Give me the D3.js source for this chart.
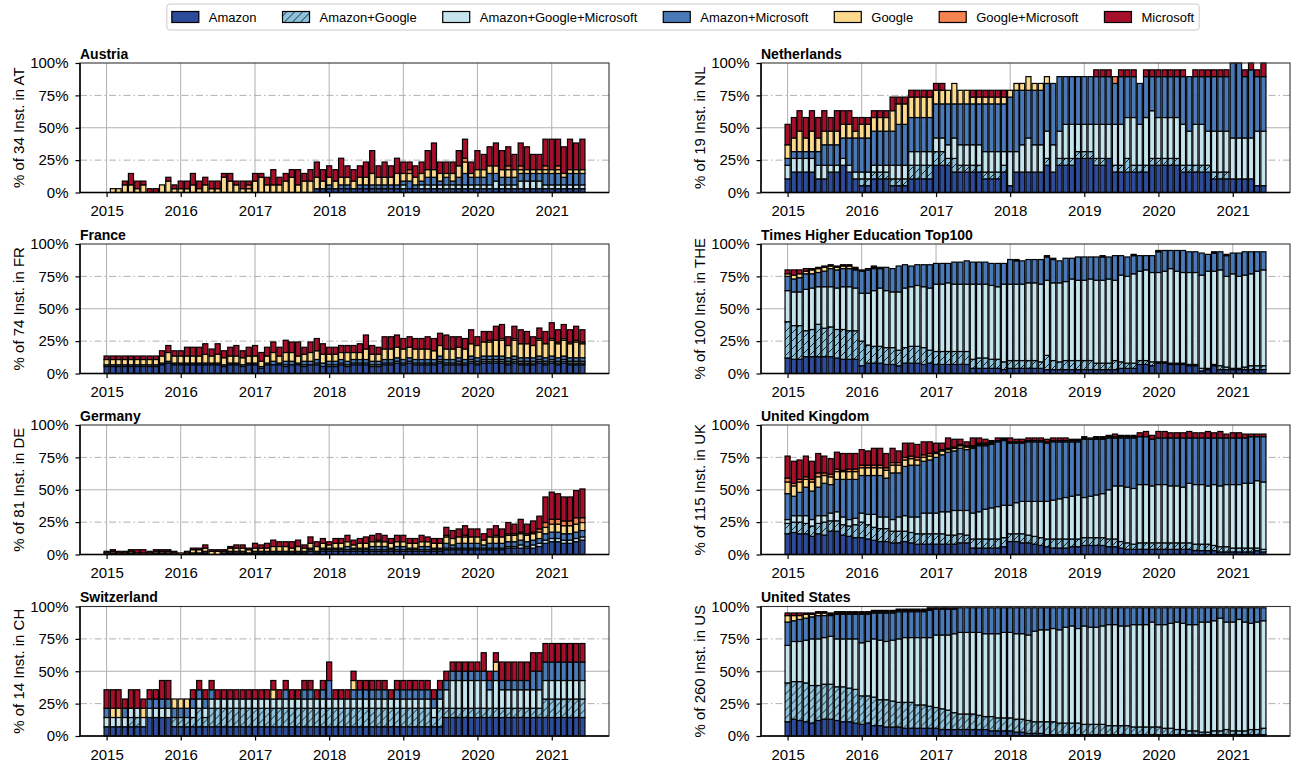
<!DOCTYPE html>
<html><head><meta charset="utf-8">
<script src="https://cdn.jsdelivr.net/npm/d3@7"></script>
<style>body{margin:0;background:#fff}svg{font-family:"Liberation Sans",Arial,Helvetica,sans-serif}</style>
</head><body><svg id="c" width="1296" height="769"></svg>
<script>
const seriesNames=["Amazon","Amazon+Google","Amazon+Google+Microsoft","Amazon+Microsoft","Google","Google+Microsoft","Microsoft"];
const seriesColors=["#2d4b9b","#8ec3de","#c5e4ee","#4a79b8","#fcd98b","#f58450","#a50f2a"];
const yearTicks=[2015,2016,2017,2018,2019,2020,2021];
const yTicks=[0,25,50,75,100];

// ---- Austria (counts of 34)
const AT_A=[0,0,0,0,0,0,0,0,0,0,0,0, 0,0,0,0,0,0,0,0,0,0,0,0, 0,0,0,0,0,0,0,0,0,0,1,1, 1,1,1,1,1,1,1,1,1,1,1,1, 1,1,1,1,1,1,1,1,1,1,1,1, 1,1,1,1,1,1,1,1,1,1,1,1, 1,1,1,1,1,1];
const AT_AG=[0,0,0,0,0,0,0,0,0,0,0,0, 0,0,0,0,0,0,0,0,0,0,0,0, 0,0,0,0,0,0,0,0,0,0,0,0, 0,0,0,0,0,0,0,0,0,0,0,0, 0,0,0,0,0,0,0,0,0,0,0,0, 0,0,0,0,0,0,0,0,0,0,0,0, 0,0,0,0,0,0];
const AT_AGM=[0,0,0,0,0,0,0,0,0,0,0,0, 0,0,0,0,0,0,0,0,0,0,0,0, 0,0,0,0,0,0,0,0,0,0,0,0, 0,0,0,0,0,0,0,0,0,0,0,0, 1,0,0,1,1,1,1,1,1,1,1,1, 1,1,1,2,1,1,1,2,2,2,2,1, 1,1,1,1,1,1];
const AT_AM=[0,0,0,0,0,0,0,0,0,0,0,0, 0,0,0,0,0,0,0,0,0,0,0,0, 0,0,0,0,0,0,0,0,0,0,0,0, 1,0,1,1,0,1,1,1,1,1,1,1, 1,2,1,1,2,2,1,2,1,2,3,2, 2,2,3,2,2,2,2,2,2,2,2,3, 3,3,2,3,3,3];
const AT_G=[0,1,1,2,2,1,2,0,0,2,3,1, 1,1,2,1,2,1,1,4,3,2,1,1, 3,4,2,2,2,3,4,2,3,3,3,2, 2,2,2,2,2,2,2,3,2,2,2,3, 2,2,2,2,2,2,2,1,2,3,3,1, 2,2,2,2,2,2,2,1,1,1,1,1, 1,1,1,1,1,1];
const AT_GM=[0,0,0,0,0,0,0,0,0,0,0,0, 0,0,0,0,0,0,0,0,0,0,0,1, 0,0,0,0,0,0,0,0,0,0,0,0, 0,0,0,0,0,0,0,0,0,0,0,0, 0,1,0,0,0,0,0,0,0,0,1,0, 0,0,0,0,0,1,0,1,0,0,0,1, 0,1,0,0,0,0];
const AT_MS=[0,0,0,1,3,2,1,1,1,0,1,1, 2,2,3,2,2,2,2,1,2,1,2,1, 2,1,2,4,2,2,2,4,2,3,4,3, 3,3,5,3,3,3,4,6,3,4,3,4, 3,2,3,3,5,7,3,3,3,4,5,3, 5,4,5,6,5,5,4,6,6,4,4,7, 8,7,7,8,7,8];

// ---- France (counts of 74)
const FR_A=[4,4,4,4,4,4,4,4,4,5,6,5, 5,5,5,5,5,5,5,4,5,5,4,5, 5,3,5,5,5,4,5,5,4,5,5,4, 4,4,5,4,5,5,5,4,4,5,5,6, 5,6,5,5,5,5,6,5,5,5,5,6, 5,6,6,6,6,5,6,5,5,5,6,5, 6,5,6,5,5,5];
const FR_AG=[0,0,0,0,0,0,0,0,0,0,0,0, 0,0,0,0,0,0,0,0,0,0,0,0, 0,0,0,0,0,0,0,0,0,0,0,0, 0,0,0,0,0,0,0,0,0,0,0,0, 0,0,0,0,0,0,1,0,0,1,0,1, 1,1,1,1,1,1,1,1,1,1,1,1, 1,1,1,1,1,1];
const FR_AGM=[0,0,0,0,0,0,0,0,0,0,0,0, 0,0,0,0,0,0,0,0,0,0,0,0, 0,0,0,0,0,1,0,0,1,0,1,0, 1,1,1,1,1,1,1,1,1,1,1,1, 1,1,1,1,1,1,1,1,1,1,1,1, 1,1,1,1,1,1,1,1,1,1,1,1, 1,1,1,1,1,1];
const FR_AM=[1,1,1,1,1,1,1,1,1,1,1,1, 1,1,1,1,1,1,1,1,1,1,1,1, 1,1,1,2,1,2,2,1,2,2,2,2, 2,2,2,2,2,2,2,2,2,2,2,2, 2,2,2,2,2,2,2,2,2,2,2,2, 2,2,2,2,2,2,2,2,2,2,2,2, 2,2,2,2,2,2];
const FR_G=[3,3,3,3,3,3,3,3,3,4,5,4, 4,4,4,4,5,4,5,4,4,4,4,4, 4,3,4,5,4,5,5,4,4,5,5,5, 4,4,4,5,4,4,6,4,4,6,6,6, 6,6,6,6,6,5,6,6,6,6,6,7, 7,8,8,9,9,7,9,8,8,7,9,8, 9,8,9,8,9,8];
const FR_GM=[0,0,0,0,0,0,0,0,0,0,0,0, 0,0,0,0,0,0,0,0,0,0,0,0, 0,0,0,0,0,0,0,0,0,0,0,0, 0,0,0,0,0,0,0,0,0,0,0,0, 0,0,0,0,0,0,0,0,0,0,0,0, 0,0,1,0,1,0,1,0,0,0,1,0, 1,1,1,1,1,1];
const FR_MS=[2,2,2,2,2,2,2,2,2,3,4,3, 3,5,5,5,6,4,6,4,5,6,4,5, 6,5,5,6,5,7,6,8,4,6,7,6, 4,4,4,4,4,5,8,5,4,7,7,7, 6,6,6,6,7,7,7,8,7,6,6,8, 5,6,5,8,8,5,7,8,7,5,6,7, 9,7,8,7,8,7];

// ---- Germany (counts of 81)
const DE_A=[0,1,0,0,1,0,0,0,1,1,1,0, 0,0,1,1,1,0,0,1,1,1,1,1, 1,1,1,1,1,1,1,1,1,2,1,2, 2,2,2,2,2,2,2,2,2,2,2,2, 2,2,2,2,2,2,2,3,3,3,3,3, 3,3,3,3,3,4,4,4,4,4,5,7, 8,8,7,7,8,9];
const DE_AG=[0,0,0,0,0,0,0,0,0,0,0,0, 0,0,0,0,0,0,0,0,0,0,0,0, 0,0,0,0,0,0,0,0,0,0,0,0, 0,0,0,0,0,0,0,0,0,0,0,0, 0,0,0,0,0,0,0,0,0,0,0,0, 0,0,0,0,0,0,0,0,0,0,0,0, 0,0,0,0,0,0];
const DE_AGM=[0,0,0,0,0,0,0,0,0,0,0,0, 0,0,0,0,0,0,0,0,0,0,0,0, 0,0,0,0,0,0,0,0,0,1,0,1, 1,1,1,1,1,1,1,1,1,1,1,1, 1,1,1,1,1,1,1,1,1,1,1,1, 1,1,1,1,1,1,1,2,1,2,2,2, 2,2,2,2,2,2];
const DE_AM=[0,0,0,0,0,0,0,0,0,0,0,0, 0,0,0,0,1,0,0,0,1,1,1,0, 1,1,1,1,1,1,1,1,1,1,1,1, 1,1,1,2,1,1,1,2,2,2,1,2, 2,1,1,2,2,1,1,3,2,3,3,3, 3,2,3,3,3,3,3,3,3,3,3,4, 4,4,4,4,4,4];
const DE_G=[1,1,1,1,1,1,1,1,1,1,1,1, 1,1,2,2,2,2,2,1,2,2,2,2, 2,2,2,3,3,3,2,3,2,3,3,3, 2,3,3,3,2,3,3,3,3,3,3,3, 3,3,3,3,3,3,3,4,4,4,4,4, 4,3,4,4,4,4,4,4,4,4,4,4, 5,5,5,5,5,5];
const DE_GM=[0,0,0,0,0,0,0,0,0,0,0,0, 0,0,0,0,0,0,0,0,0,0,0,0, 0,0,0,0,0,0,0,0,0,0,0,0, 0,0,0,0,0,0,0,0,1,0,0,0, 0,0,0,0,0,0,0,1,0,0,1,0, 0,0,0,1,0,1,1,1,1,1,2,3, 3,3,3,3,4,3];
const DE_MS=[1,1,1,1,1,2,2,1,1,1,1,1, 0,1,1,1,2,1,1,1,1,2,2,1, 3,2,3,4,3,3,4,4,2,4,3,3, 2,3,3,4,3,3,4,4,4,4,3,4, 4,3,3,4,3,3,3,5,5,5,6,5, 5,4,5,6,5,7,6,8,6,7,8,16, 17,16,15,15,17,18];

// ---- Switzerland (counts of 14)
const CH_A=[1,1,1,1,1,1,1,2,2,2,2,1, 1,1,1,1,1,1,1,1,1,1,1,1, 1,1,1,1,1,1,1,1,1,1,1,1, 1,1,1,1,1,1,1,1,1,1,1,1, 1,1,1,1,1,1,1,2,2,2,2,2, 2,2,2,2,2,2,2,2,2,2,2,2, 2,2,2,2,2,2];
const CH_AG=[0,0,0,0,1,1,0,0,0,0,0,1, 1,1,1,2,1,2,2,2,2,2,2,2, 2,2,2,2,2,2,2,2,2,2,2,2, 2,2,2,2,2,2,2,2,2,2,2,2, 2,2,2,2,2,1,2,1,1,1,1,1, 1,1,1,1,1,1,1,1,1,1,1,2, 2,2,2,2,2,2];
const CH_AGM=[1,1,1,1,1,1,1,1,1,1,1,0, 0,0,1,1,1,1,1,1,1,1,1,1, 1,1,1,1,1,1,1,1,1,1,1,1, 1,1,1,1,1,1,1,1,1,1,1,1, 1,1,1,1,1,1,1,2,3,3,3,3, 3,3,2,3,2,2,2,2,2,2,2,2, 2,2,2,2,2,2];
const CH_AM=[1,0,0,1,0,0,0,1,1,1,1,1, 1,1,1,1,1,1,0,0,0,0,0,0, 0,0,0,0,0,1,0,0,1,1,0,1, 2,0,0,0,1,1,1,1,1,1,0,1, 1,1,1,1,1,1,1,1,1,1,1,1, 1,1,1,1,1,1,1,1,1,2,2,2, 2,2,2,2,2,2];
const CH_G=[0,1,1,0,0,0,1,0,0,0,0,1, 1,1,0,0,0,0,0,0,0,0,0,0, 0,0,0,1,0,0,0,0,0,0,0,0, 0,0,0,0,1,0,0,0,0,0,0,0, 0,0,0,0,0,0,0,0,0,0,0,0, 0,0,0,1,0,0,0,0,0,0,0,0, 0,0,0,0,0,0];
const CH_GM=[0,0,0,0,0,0,0,0,0,0,0,0, 0,0,0,0,0,0,0,0,0,0,0,0, 0,0,0,0,0,0,0,0,0,0,0,0, 0,0,0,0,0,0,0,0,0,0,0,0, 0,0,0,0,0,0,0,0,0,0,0,0, 0,0,0,0,0,0,0,0,0,0,0,0, 0,0,0,0,0,0];
const CH_MS=[2,2,2,1,2,2,1,1,1,2,2,0, 0,0,1,1,1,1,1,1,1,1,1,1, 1,1,1,1,1,1,1,1,1,1,1,1, 2,1,1,1,1,1,1,1,1,1,1,1, 1,1,1,1,1,1,1,1,1,1,1,1, 1,2,1,1,2,2,2,2,2,2,2,2, 2,2,2,2,2,2];

// ---- Netherlands (counts of 19)
const NL_A=[2,3,3,3,3,2,2,3,3,4,3,2, 1,1,2,2,2,1,1,1,2,2,2,2, 4,4,4,3,3,3,3,3,2,2,2,3, 1,3,3,3,3,3,4,3,4,4,4,5, 5,5,4,4,5,3,3,3,3,3,3,4, 4,4,4,4,3,3,3,3,3,2,2,2, 2,2,2,2,1,1];
const NL_AG=[0,0,0,0,0,0,0,0,0,0,0,0, 1,1,1,1,1,1,1,1,2,2,2,2, 2,2,1,2,1,1,1,1,1,1,1,1, 0,0,0,0,0,0,1,0,1,1,1,1, 1,1,1,1,0,1,1,2,1,1,1,1, 1,1,1,1,1,1,1,1,1,1,1,1, 0,0,0,0,0,0];
const NL_AGM=[2,2,2,2,2,2,2,1,1,1,1,1, 1,1,1,1,1,2,2,2,2,2,2,2, 2,2,2,3,3,3,3,3,3,3,3,2, 5,3,4,5,4,4,4,4,4,5,5,4, 4,4,5,5,5,6,6,6,7,6,7,7, 6,6,6,6,6,5,6,6,5,6,6,6, 6,6,6,6,8,8];
const NL_AM=[1,1,1,1,1,2,3,3,3,3,4,5, 5,5,5,5,5,5,6,6,5,5,5,5, 5,5,6,5,6,6,6,6,7,7,7,7, 8,9,8,7,8,8,7,9,8,7,7,7, 7,7,7,7,7,6,7,6,6,6,6,5, 6,6,6,6,7,8,7,7,8,8,8,8, 11,11,9,10,8,8];
const NL_G=[2,2,3,2,3,2,2,2,2,2,2,1, 2,2,2,2,2,3,3,3,3,3,3,3, 2,2,2,3,2,2,1,1,1,1,1,1, 1,1,1,2,1,1,1,0,0,0,0,0, 0,0,0,0,0,0,0,0,0,0,0,0, 0,0,0,0,0,0,0,0,0,0,0,0, 0,0,0,0,0,0];
const NL_GM=[0,0,0,0,0,0,0,0,0,0,0,0, 0,0,0,0,0,0,0,0,0,0,0,0, 0,0,0,0,0,0,0,0,0,0,0,0, 0,0,0,0,0,0,0,0,0,0,0,0, 0,0,0,0,0,1,0,0,0,0,0,0, 0,0,0,0,0,0,0,0,0,0,0,0, 0,0,0,0,0,0];
const NL_MS=[3,3,3,3,3,3,3,2,3,2,2,2, 1,1,1,1,1,2,1,1,1,1,1,1, 1,1,0,0,0,0,1,1,1,1,1,1, 0,0,0,0,0,0,0,0,0,0,0,0, 0,0,1,1,1,0,1,1,1,0,1,1, 1,1,1,1,1,0,1,1,1,1,1,1, 0,0,1,1,1,2];

// ---- Times Higher Education Top100 (counts of 100 = percent)
const THE_A=[12,11,11,13,13,13,13,13,12,11,11,11, 6,8,8,8,7,7,6,8,8,8,7,8, 7,7,7,7,7,7,4,4,4,4,4,3, 4,4,4,4,4,4,3,3,3,3,3,3, 3,3,3,3,3,3,4,4,4,7,7,6, 8,8,7,7,7,6,6,2,3,6,3,3, 3,3,3,3,3,3];
const THE_AG=[28,26,26,20,21,25,22,23,22,23,22,22, 19,14,13,13,13,13,12,12,13,13,13,10, 10,10,10,10,10,10,7,8,8,7,7,6, 6,6,6,6,6,5,11,7,6,7,7,7, 7,7,5,5,5,7,5,4,4,3,3,3, 1,1,1,1,1,1,1,2,1,1,3,2, 1,1,2,3,3,3];
const THE_AGM=[24,26,26,32,32,29,32,31,32,33,34,33, 37,40,43,45,44,43,45,46,46,47,47,48, 52,52,53,52,52,52,58,57,57,57,56,60, 59,59,59,60,60,60,58,60,61,61,63,62, 62,63,64,64,65,62,67,67,69,69,70,69, 69,70,73,71,70,71,71,72,75,72,74,70, 73,71,71,71,73,74];
const THE_AM=[11,10,11,12,11,11,12,14,14,14,14,14, 17,18,17,15,18,18,20,18,16,16,17,18, 16,16,15,17,17,18,17,17,17,17,18,16, 19,18,18,18,18,19,18,18,17,18,16,18, 18,17,18,18,17,19,15,15,14,12,11,13, 16,16,14,16,17,16,16,17,13,14,14,16, 16,18,18,17,15,14];
const THE_G=[2,3,3,2,3,3,3,2,2,2,2,1, 1,1,1,1,0,0,0,0,0,0,0,0, 0,0,0,0,0,0,0,0,0,0,0,0, 0,0,0,0,0,0,0,0,0,0,0,0, 0,0,0,0,0,0,0,0,0,0,0,0, 0,0,0,0,0,0,0,0,0,0,0,0, 0,0,0,0,0,0];
const THE_GM=[0,0,0,0,0,0,0,0,0,0,0,0, 0,0,0,0,0,0,0,0,0,0,0,0, 0,0,0,0,0,0,0,0,0,0,0,0, 0,0,0,0,0,0,0,0,0,0,0,0, 0,0,0,0,0,0,0,0,0,0,0,0, 0,0,0,0,0,0,0,0,0,0,0,0, 0,0,0,0,0,0];
const THE_MS=[3,4,3,2,1,1,1,1,1,1,1,1, 0,0,1,0,0,0,0,0,0,0,0,0, 0,0,0,0,0,0,0,0,0,0,0,0, 0,1,0,0,0,0,1,1,0,0,0,0, 0,0,0,1,0,0,0,0,1,0,0,0, 1,0,0,0,0,0,0,0,0,1,0,1, 0,0,0,0,0,0];

// ---- United Kingdom (percent of 115)
const UK_A=[16,17,16,16,14,16,15,18,18,15,14,13, 13,12,11,10,10,9,9,10,9,8,8,8, 8,8,8,8,9,9,5,5,5,5,5,6, 10,10,9,9,8,7,6,5,5,5,6,6, 7,7,7,7,6,6,5,4,4,4,4,4, 4,4,4,4,4,4,3,3,3,3,2,2, 2,2,2,2,3,2];
const UK_AG=[8,8,9,8,8,8,10,8,8,8,8,10, 12,11,10,10,10,9,9,8,8,8,8,8, 8,8,7,7,7,6,7,7,7,7,7,7, 6,6,7,6,6,6,6,7,7,7,6,6, 6,6,6,6,6,6,5,5,4,5,5,5, 5,5,5,5,5,5,5,5,5,4,4,4, 3,3,3,3,2,2];
const UK_AGM=[3,5,5,6,5,6,5,6,7,6,5,5, 7,8,10,9,9,9,11,12,12,13,16,16, 16,17,18,19,18,19,20,21,23,24,25,25, 22,24,25,26,27,28,29,30,31,32,33,34, 31,32,33,34,38,41,43,43,43,45,45,44, 45,45,44,44,43,46,46,46,45,47,47,48, 49,49,50,50,52,52];
const UK_AM=[20,15,18,22,22,22,25,22,25,29,31,30, 29,30,30,32,30,36,34,38,40,40,40,41, 43,44,46,46,48,47,50,51,49,49,50,50, 48,46,45,46,46,46,45,45,44,43,42,41, 45,44,43,42,40,37,37,38,39,37,37,36, 36,36,37,37,38,35,36,36,37,36,37,36, 36,36,35,36,34,35];
const UK_G=[9,8,8,6,7,8,6,6,6,6,6,6, 6,6,6,6,6,6,6,5,5,4,3,3, 3,3,2,2,2,2,1,1,1,1,1,1, 1,1,1,1,1,1,1,1,1,1,1,1, 1,1,1,1,1,1,1,1,1,0,0,0, 0,0,0,0,0,0,0,0,0,0,0,0, 0,0,0,0,0,0];
const UK_GM=[3,2,2,2,2,3,2,2,2,1,2,2, 2,2,2,2,2,2,2,2,2,2,2,2, 1,1,1,1,1,1,1,1,1,1,0,0, 0,0,0,0,0,0,0,0,0,0,0,0, 0,0,0,0,0,0,0,0,0,0,0,0, 0,0,0,0,0,0,0,0,0,0,0,0, 0,0,0,0,0,0];
const UK_MS=[17,17,15,16,14,15,13,12,13,13,12,12, 12,11,13,13,11,11,9,11,10,10,10,9, 7,5,8,6,4,3,6,4,3,1,2,1, 3,2,2,2,2,2,2,2,2,2,1,1, 1,0,1,1,1,2,1,1,1,3,4,3, 5,5,4,4,4,5,4,4,5,4,5,3, 4,4,3,2,2,2];

// ---- United States (percent of 260)
const US_A=[11,13,12,11,10,12,13,13,12,11,11,10, 9,10,8,8,7,7,7,6,6,6,6,6, 6,5,5,5,5,5,5,5,5,4,4,4, 4,3,3,2,2,2,1,1,1,1,1,1, 1,1,1,1,1,1,1,1,1,1,1,1, 1,1,1,1,1,1,1,1,1,1,1,1, 1,1,1,1,1,1];
const US_AG=[30,29,30,30,29,27,27,27,26,27,26,26, 22,21,22,20,21,20,19,20,20,18,18,17, 16,16,15,13,12,12,12,11,10,11,10,10, 10,10,10,10,9,9,10,10,9,9,9,9, 8,8,8,8,7,7,7,7,6,6,6,6, 6,5,5,4,4,3,3,2,2,3,3,4, 3,3,3,4,4,5];
const US_AGM=[29,31,31,33,36,36,36,37,37,37,38,39, 41,42,45,46,45,47,49,50,50,52,52,53, 56,57,58,61,63,63,63,64,64,64,65,66, 66,66,66,66,70,71,71,72,72,74,75,73, 76,75,75,76,78,78,77,77,79,79,79,81, 79,80,81,83,82,82,82,85,85,85,87,83, 84,86,84,82,83,83];
const US_AM=[18,16,17,17,17,18,17,16,19,19,19,19, 22,21,20,21,22,21,21,20,20,20,20,21, 20,20,20,19,19,19,19,19,20,20,20,19, 19,20,20,21,18,17,17,16,17,15,14,16, 14,15,15,14,13,13,14,14,13,13,13,11, 13,13,12,11,12,13,13,11,11,10,8,11, 11,9,11,12,11,10];
const US_G=[5,4,3,3,2,2,2,1,1,1,1,1, 1,1,1,1,1,1,1,1,1,1,1,1, 0,0,0,0,0,0,0,0,0,0,0,0, 0,0,0,0,0,0,0,0,0,0,0,0, 0,0,0,0,0,0,0,0,0,0,0,0, 0,0,0,0,0,0,0,0,0,0,0,0, 0,0,0,0,0,0];
const US_GM=[0,0,0,0,0,0,0,0,0,0,0,0, 0,0,0,0,0,0,0,0,0,0,0,0, 0,0,0,0,0,0,0,0,0,0,0,0, 0,0,0,0,0,0,0,0,0,0,0,0, 0,0,0,0,0,0,0,0,0,0,0,0, 0,0,0,0,0,0,0,0,0,0,0,0, 0,0,0,0,0,0];
const US_MS=[2,2,2,1,1,1,1,1,1,1,1,1, 1,1,1,1,1,1,1,1,1,1,1,1, 1,1,1,1,0,0,0,0,0,0,0,0, 0,0,0,0,0,0,0,0,0,0,0,0, 0,0,0,0,0,0,0,0,0,0,0,0, 0,0,0,0,0,0,0,0,0,0,0,0, 0,0,0,0,0,0];

const panels=[
 {title:"Austria",code:"AT",n:34,pct:false,col:0,row:0,s:[AT_A,AT_AG,AT_AGM,AT_AM,AT_G,AT_GM,AT_MS]},
 {title:"France",code:"FR",n:74,pct:false,col:0,row:1,s:[FR_A,FR_AG,FR_AGM,FR_AM,FR_G,FR_GM,FR_MS]},
 {title:"Germany",code:"DE",n:81,pct:false,col:0,row:2,s:[DE_A,DE_AG,DE_AGM,DE_AM,DE_G,DE_GM,DE_MS]},
 {title:"Switzerland",code:"CH",n:14,pct:false,col:0,row:3,s:[CH_A,CH_AG,CH_AGM,CH_AM,CH_G,CH_GM,CH_MS]},
 {title:"Netherlands",code:"NL",n:19,pct:false,col:1,row:0,s:[NL_A,NL_AG,NL_AGM,NL_AM,NL_G,NL_GM,NL_MS]},
 {title:"Times Higher Education Top100",code:"THE",n:100,pct:false,col:1,row:1,s:[THE_A,THE_AG,THE_AGM,THE_AM,THE_G,THE_GM,THE_MS]},
 {title:"United Kingdom",code:"UK",n:115,pct:true,col:1,row:2,s:[UK_A,UK_AG,UK_AGM,UK_AM,UK_G,UK_GM,UK_MS]},
 {title:"United States",code:"US",n:260,pct:true,col:1,row:3,s:[US_A,US_AG,US_AGM,US_AM,US_G,US_GM,US_MS]}
];

const svg=d3.select("#c");
const months=d3.utcMonth.range(new Date(Date.UTC(2015,0,1)),new Date(Date.UTC(2021,6,1)));
const DAY=86400000, barDays=25;
const xDomain=[new Date(Date.UTC(2015,0,1)-130.9*DAY),new Date(Date.UTC(2021,5,1)+130.9*DAY)];
const colLeft=[80,761], plotW=529, rowTop=[63,244,425,606.5], plotH=129.5;
const keys=seriesNames;

const defs=svg.append("defs");
const pat=defs.append("pattern").attr("id","hatch").attr("patternUnits","userSpaceOnUse").attr("width",8).attr("height",8);
pat.append("rect").attr("width",8).attr("height",8).attr("fill",seriesColors[1]);
pat.append("path").attr("d","M-2,2 L2,-2 M0,8 L8,0 M6,10 L10,6").attr("stroke","#000").attr("stroke-width",0.8);

panels.forEach(p=>{
  const x0=colLeft[p.col], y0=rowTop[p.row];
  const g=svg.append("g").attr("transform",`translate(${x0},${y0})`);
  const x=d3.scaleUtc().domain(xDomain).range([0,plotW]);
  const y=d3.scaleLinear().domain([0,100]).range([plotH,0]);
  const bw=x(new Date(xDomain[0].getTime()+barDays*DAY))-x(xDomain[0]);
  const yearDates=yearTicks.map(yr=>new Date(Date.UTC(yr,0,1)));
  // grid
  g.append("g").selectAll("line").data(yearDates).join("line")
    .attr("x1",d=>x(d)).attr("x2",d=>x(d)).attr("y1",0).attr("y2",plotH)
    .attr("stroke","#b0b0b0").attr("stroke-width",1);
  g.append("g").selectAll("line").data([25,50,75]).join("line")
    .attr("x1",0).attr("x2",plotW).attr("y1",d=>y(d)).attr("y2",d=>y(d))
    .attr("stroke","#b0b0b0").attr("stroke-width",1)
    .attr("stroke-dasharray",d=>d===50?null:"7,3,1.5,3");
  // stacked bars
  const rows=months.map((m,i)=>{const o={date:m};keys.forEach((k,j)=>{const v=p.s[j][i]||0;o[k]=p.pct?v:v/p.n*100;});return o;});
  const stacked=d3.stack().keys(keys)(rows);
  g.append("g").selectAll("g").data(stacked).join("g")
    .attr("fill",(d,i)=>i===1?"url(#hatch)":seriesColors[i])
    .selectAll("rect").data(d=>d.filter(e=>e[1]-e[0]>0)).join("rect")
    .attr("x",d=>x(d.data.date)-bw/2).attr("width",bw)
    .attr("y",d=>y(d[1])).attr("height",d=>y(d[0])-y(d[1]))
    .attr("stroke","#000").attr("stroke-width",1.2);
  // frame
  g.append("rect").attr("width",plotW).attr("height",plotH).attr("fill","none").attr("stroke","#333").attr("stroke-width",1.1);
  g.append("line").attr("x1",0).attr("x2",0).attr("y1",0).attr("y2",plotH).attr("stroke","#000").attr("stroke-width",1.5);
  g.append("line").attr("x1",0).attr("x2",plotW).attr("y1",plotH).attr("y2",plotH).attr("stroke","#000").attr("stroke-width",1.5);
  // axes
  const ax=g.append("g").attr("transform",`translate(0,${plotH})`)
    .call(d3.axisBottom(x).tickValues(yearDates).tickFormat(d3.utcFormat("%Y")).tickSize(4.5).tickPadding(8.5));
  const ay=g.append("g").call(d3.axisLeft(y).tickValues(yTicks).tickFormat(d=>d+"%").tickSize(4.5).tickPadding(7));
  [ax,ay].forEach(a=>{a.select(".domain").remove();a.selectAll("text").attr("font-size",15).attr("fill","#000").attr("font-family","Liberation Sans, Arial, sans-serif");a.selectAll("line").attr("stroke","#000").attr("stroke-width",1.2);});
  // title
  g.append("text").attr("x",0).attr("y",-4.5).attr("font-size",14).attr("font-weight","bold").text(p.title);
  // y label
  g.append("text").attr("transform",`translate(-62,${plotH/2}) rotate(-90)`).attr("text-anchor","middle")
    .attr("dominant-baseline","central").attr("font-size",15).text(`% of ${p.n} Inst. in ${p.code}`);
});

// legend
const lg=svg.append("g");
const items=lg.selectAll("g").data(seriesNames).join("g");
items.append("rect").attr("width",27).attr("height",11).attr("y",11.5)
  .attr("fill",(d,i)=>i===1?"url(#hatch)":seriesColors[i]).attr("stroke","#000").attr("stroke-width",1.2);
items.append("text").attr("x",37).attr("y",21.5).attr("font-size",13).text(d=>d);
let cursor=0;
items.each(function(){const t=d3.select(this).select("text").node().getComputedTextLength();d3.select(this).attr("transform",`translate(${cursor},0)`);cursor+=37+t+26;});
const totalW=cursor-26, lx=683-totalW/2;
lg.attr("transform",`translate(${lx},0)`);
lg.insert("rect",":first-child").attr("x",-5).attr("y",4).attr("width",totalW+10).attr("height",26).attr("rx",3)
  .attr("fill","#fff").attr("stroke","#cccccc").attr("stroke-width",1);
</script></body></html>
